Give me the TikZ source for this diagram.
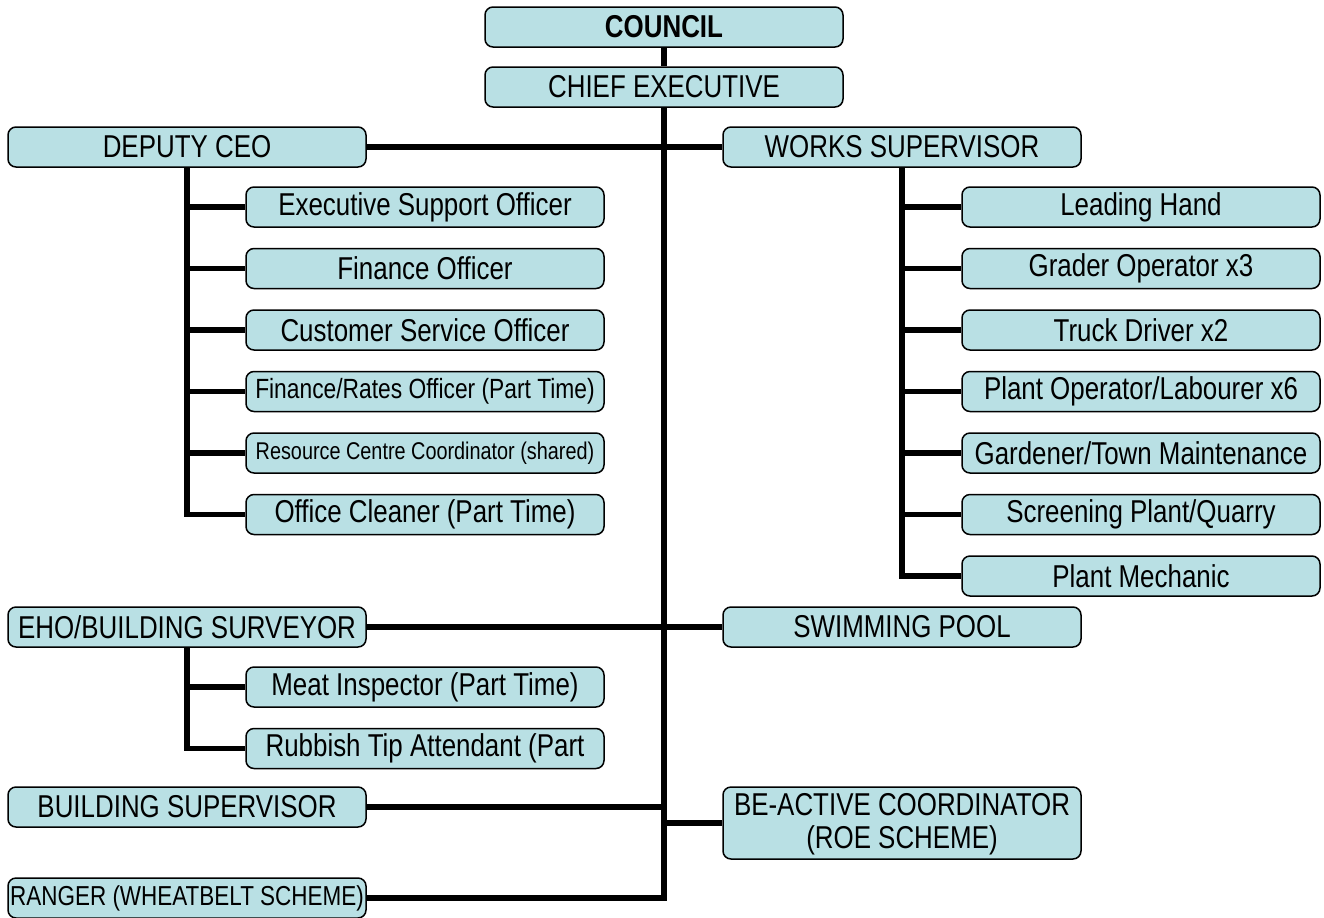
\documentclass[tikz,border=0pt]{standalone}
\usepackage{fontspec}
\setmainfont[FakeStretch=0.82]{Liberation Sans}
\usetikzlibrary{positioning}
\definecolor{boxblue}{RGB}{185,224,228}
\newcommand{\postfont}{\fontsize{15.8}{16.2}\selectfont}
\tikzstyle{post} = [rectangle, rounded corners=4pt, minimum width=179pt, minimum height=20pt, inner sep=0pt, text centered, draw=black, line width=0.75pt, fill=boxblue, font=\postfont]
\tikzstyle{postsmall} = [post, font=\fontsize{13.9}{15}\selectfont]
\tikzstyle{posttiny} = [post, font=\fontsize{12.1}{13}\selectfont]
\tikzstyle{link} = [line width=2.8pt, line join=miter]

\begin{document}
\begin{tikzpicture}[x=0.5pt, y=-0.5pt, node distance=10pt]
\useasboundingbox (0,0) rectangle (1324,917);
\node (council) [post, font=\postfont\bfseries] at (664,27) {COUNCIL};
\node (chief) [post] at (664,87) {CHIEF EXECUTIVE};
\node (deputy) [post] at (187,147) {DEPUTY CEO};
\node (works) [post] at (902,147) {WORKS SUPERVISOR};

% deputy ceo side
\node (exec) [post] at (425,207) {Executive Support Officer};
\node (finance) [post, below=of exec] {Finance Officer};
\node (customer) [post, below=of finance] {Customer Service Officer};
\node (rates) [postsmall, below=of customer] {Finance/Rates Officer (Part Time)};
\node (resource) [posttiny, below=of rates] {Resource Centre Coordinator (shared)};
\node (cleaner) [post, below=of resource] {Office Cleaner (Part Time)};

% works side
\node (leading) [post] at (1141,207) {Leading Hand};
\node (grader) [post, below=of leading] {Grader Operator x3};
\node (truck) [post, below=of grader] {Truck Driver x2};
\node (plantop) [post, below=of truck] {Plant Operator/Labourer x6};
\node (gardener) [post, below=of plantop] {Gardener/Town Maintenance};
\node (screening) [post, below=of gardener] {Screening Plant/Quarry};
\node (mechanic) [post, below=of screening] {Plant Mechanic};

\node (eho) [post] at (187,627) {EHO/BUILDING SURVEYOR};
\node (pool) [post] at (902,627) {SWIMMING POOL};
\node (meat) [post] at (425,687) {Meat Inspector (Part Time)};
\node (rubbish) [post, below=of meat] {Rubbish Tip Attendant (Part};

\node (building) [post] at (187,807) {BUILDING SUPERVISOR};
\node (beactive) [post, minimum height=36pt, align=center, text depth=2pt] at (902,823) {BE-ACTIVE COORDINATOR\\(ROE SCHEME)};
\node (ranger) [post, font=\fontsize{13.7}{15}\selectfont] at (187,898) {RANGER (WHEATBELT SCHEME)};

\draw[link] (council) -- (chief);
\draw[link] (chief.south) |- (ranger.east);
\draw[link] (deputy) -- (works);
\draw[link] (eho) -- (pool);
\draw[link] (building.east) -- (building.east -| chief.south);
\draw[link] (beactive.west) -- (beactive.west -| chief.south);

\draw[link] (deputy.south) |- (exec.west);
\draw[link] (deputy.south) |- (finance.west);
\draw[link] (deputy.south) |- (customer.west);
\draw[link] (deputy.south) |- (rates.west);
\draw[link] (deputy.south) |- (resource.west);
\draw[link] (deputy.south) |- (cleaner.west);

\draw[link] (works.south) |- (leading.west);
\draw[link] (works.south) |- (grader.west);
\draw[link] (works.south) |- (truck.west);
\draw[link] (works.south) |- (plantop.west);
\draw[link] (works.south) |- (gardener.west);
\draw[link] (works.south) |- (screening.west);
\draw[link] (works.south) |- (mechanic.west);

\draw[link] (eho.south) |- (meat.west);
\draw[link] (eho.south) |- (rubbish.west);
\end{tikzpicture}
\end{document}
